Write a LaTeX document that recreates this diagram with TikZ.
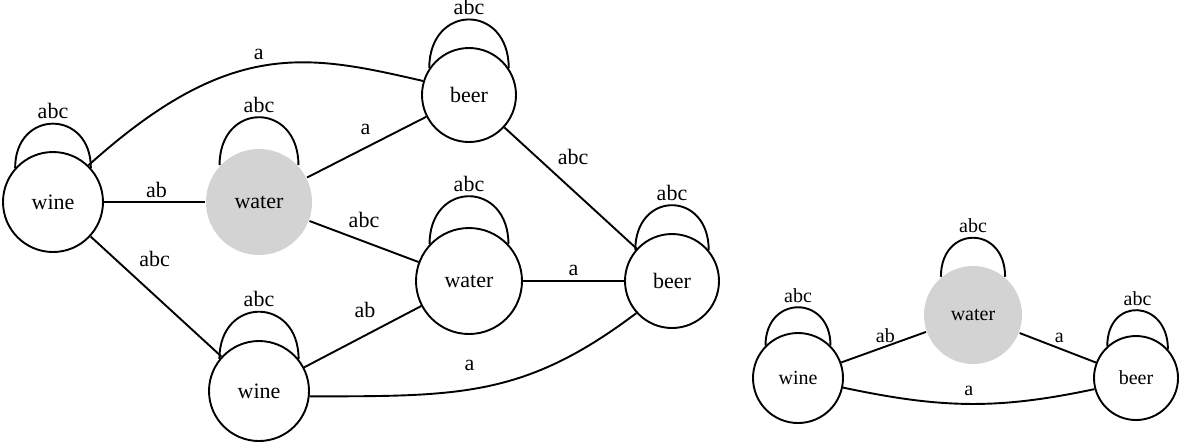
\documentclass[tikz,border=0pt]{standalone}
\usepackage{fontspec}
\setmainfont{Liberation Serif}
\usepackage{tikz}
\usepackage{xcolor}
\definecolor{ltgray}{RGB}{211,211,211}
\tikzset{
  state/.style={circle, draw, inner sep=0pt},
  wet/.style={circle, fill=ltgray, inner sep=0pt},
  lbl/.style={inner sep=0pt}
}

\begin{document}
\begin{tikzpicture}[x=0.5pt, y=0.5pt, line width=0.95pt]
    \useasboundingbox (0,0) rectangle (1183,-447);
    % Đồ thị lớn bên trái
    \begin{scope}[font=\fontsize{11}{13}\selectfont]
    % Các đỉnh
    \node[state, minimum size=50pt] (wine1) at (53,-202) {wine};
    \node[wet, minimum size=53pt] (water1) at (259,-202) {water};
    \node[state, minimum size=47pt] (beer1) at (469,-95) {beer};
    \node[state, minimum size=53pt] (water2) at (469,-281) {water};
    \node[state, minimum size=47pt] (beer2) at (672,-281) {beer};
    \node[state, minimum size=50pt] (wine2) at (259,-391) {wine};
    % Vòng lặp abc
    \draw (wine1.138) .. controls +(90:59) and +(90:59) .. (wine1.42) node[lbl, midway, above=2pt] {abc};
    \draw (water1.137) .. controls +(90:64) and +(90:64) .. (water1.43) node[lbl, midway, above=2pt] {abc};
    \draw (beer1.146) .. controls +(90:65) and +(90:65) .. (beer1.34) node[lbl, midway, above=2pt] {abc};
    \draw (water2.137) .. controls +(90:64) and +(90:64) .. (water2.43) node[lbl, midway, above=2pt] {abc};
    \draw (beer2.140) .. controls +(90:60) and +(90:60) .. (beer2.40) node[lbl, midway, above=2pt] {abc};
    \draw (wine2.141) .. controls +(90:63) and +(90:63) .. (wine2.39) node[lbl, midway, above=2pt] {abc};
    % Các cạnh thẳng
    \draw (wine1) -- (water1) node[lbl, pos=.52, above=1.75pt] {ab};
    \draw (water1) -- (beer1) node[lbl, pos=.49, above=6pt] {a};
    \draw (water1) -- (water2) node[lbl, pos=.5, above=6.5pt] {abc};
    \draw (water2) -- (beer2) node[lbl, pos=.5, above=2.25pt] {a};
    \draw (beer1) -- (beer2) node[lbl, pos=.52, above=12.2pt] {abc};
    \draw (wine1) -- (wine2) node[lbl, pos=.49, above=13.8pt] {abc};
    \draw (wine2) -- (water2) node[lbl, pos=.52, above=8.4pt] {ab};
    % Các cạnh cong
    \draw (wine1.46) .. controls +(42:190) and +(167:120) .. (beer1.163) node[lbl, pos=.48, above=3pt] {a};
    \draw (wine2.-6) .. controls +(0:150) and +(217:140) .. (beer2.222) node[lbl, pos=.44, above=9pt] {a};
    \end{scope}
    % Đồ thị nhỏ bên phải
    \begin{scope}[font=\fontsize{10}{12}\selectfont]
    \node[state, minimum size=45pt] (wine3) at (798,-378) {wine};
    \node[wet, minimum size=49pt] (water3) at (973,-315) {water};
    \node[state, minimum size=42pt] (beer3) at (1136,-378) {beer};
    \draw (wine3.135) .. controls +(90:51) and +(90:51) .. (wine3.45) node[lbl, midway, above=2pt] {abc};
    \draw (water3.130) .. controls +(90:52) and +(90:52) .. (water3.50) node[lbl, midway, above=2pt] {abc};
    \draw (beer3.132) .. controls +(90:50) and +(90:50) .. (beer3.42) node[lbl, midway, above=2pt] {abc};
    \draw (wine3) -- (water3) node[lbl, pos=.52, above=1.7pt] {ab};
    \draw (water3) -- (beer3) node[lbl, pos=.52, above=2.45pt] {a};
    \draw (wine3.-12) .. controls +(-12:100) and +(192:100) .. (beer3.195) node[lbl, midway, above=3.7pt] {a};
    \end{scope}
\end{tikzpicture}
\end{document}
